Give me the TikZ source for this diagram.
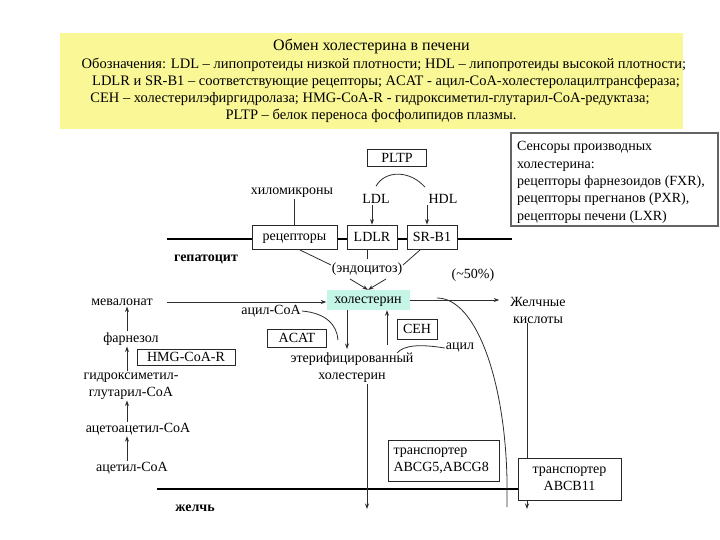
\documentclass[tikz,border=0pt]{standalone}
\usepackage{fontspec}
\setmainfont{Liberation Serif}
\usetikzlibrary{arrows.meta,calc}
\definecolor{hdryel}{RGB}{250,247,150}
\definecolor{cholc}{RGB}{196,245,230}
\definecolor{linec}{RGB}{45,45,45}
\definecolor{boxc}{RGB}{40,40,40}
\newcommand\fs{\fontsize{14}{17}\selectfont}
\newcommand\hfs{\fontsize{14.5}{17}\selectfont}
\tikzset{
  lbl/.style={font=\fs, inner sep=1pt},
  hlbl/.style={font=\hfs, inner sep=0pt, text height=10pt, text depth=3.5pt},
  boxn/.style={draw=boxc, fill=white, font=\fs, inner sep=1pt, line width=0.8pt},
  lowtxt/.style={text height=10pt, text depth=3.5pt},
  arr/.style={-{Stealth[length=5.5pt,width=4pt]}, draw=linec, line width=0.8pt},
  ln/.style={draw=linec, line width=0.8pt},
  mem/.style={line width=2.6pt, black},
}
\begin{document}
\begin{tikzpicture}[x=1pt,y=-1pt]
\useasboundingbox (0,0) rectangle (720,540);
% header
\fill[hdryel] (60,33) rectangle (683,129);
\node[hlbl, font=\fontsize{16}{18}\selectfont] (hdr1) at (371.5,47.5) {Обмен холестерина в печени};
\node[hlbl] (hdr2) at (384,65) {Обозначения: LDL – липопротеиды низкой плотности; HDL – липопротеиды высокой плотности;};
\node[hlbl] (hdr3) at (386,82) {LDLR и SR-B1 – соответствующие рецепторы; ACAT - ацил-CoA-холестеролацилтрансфераза;};
\node[hlbl] (hdr4) at (370,99) {CEH – холестерилэфиргидролаза; HMG-CoA-R - гидроксиметил-глутарил-CoA-редуктаза;};
\node[hlbl] (hdr5) at (371,116) {PLTP – белок переноса фосфолипидов плазмы.};
% sensors box
\draw[draw={rgb,255:red,100;green,100;blue,100}, line width=1.6pt, fill=white] (511,133) rectangle (718,226);
\node[lbl, align=left, anchor=north west, font=\fontsize{14}{17.3}\selectfont] (sens) at (516,140.5) {Сенсоры производных\\холестерина:\\рецепторы фарнезоидов (FXR),\\рецепторы прегнанов (PXR),\\рецепторы печени (LXR)};
% membranes
\coordinate (m1) at (167,239);
\coordinate (m2) at (512,239);
\draw[mem] (m1) -- (m2);
\coordinate (b1) at (157,489);
\coordinate (b2) at (520,489);
\draw[mem] (b1) -- (b2);
% top part
\node[boxn, minimum width=59, minimum height=17] (pltp) at (397,158) {PLTP};
\node[lbl] (chylo) at (292,193) {хиломикроны};
\node[lbl] (ldl) at (376,199) {LDL};
\node[lbl] (hdl) at (443,199) {HDL};
\node[boxn, lowtxt, minimum width=85, minimum height=24] (rec) at (294.5,237) {рецепторы};
\node[boxn, minimum width=50, minimum height=24] (ldlr) at (372,237) {LDLR};
\node[boxn, minimum width=50, minimum height=24] (srb) at (432,237) {SR-B1};
\node[lbl, font=\fs\bfseries] (hep) at (206,259) {гепатоцит};
\node[lbl] (endo) at (367,269) {(эндоцитоз)};
\draw[ln] ([yshift=7pt]ldl.north) .. controls (385,170) and (410,170) .. ([xshift=-18pt,yshift=6pt]hdl.north);
\draw[ln] (chylo.south -| rec.north) -- (rec.north);
\draw[arr] (ldl.south -| ldlr.north) -- (ldlr.north);
\draw[arr] ([xshift=-5pt]hdl.south -| srb.north) -- ([xshift=-5pt]srb.north);
\coordinate (r1) at (300,250);
\coordinate (r2) at (331,265);
\coordinate (s1) at (420,250);
\coordinate (s2) at (403,265);
\draw[ln] (r1) -- (r2);
\draw[ln] (s1) -- (s2);
\draw[ln] ([xshift=-5pt]ldlr.south) -- ([xshift=-5pt,yshift=2pt]ldlr.south |- endo.north);
% cholesterol
\node[fill=cholc, font=\fs, lowtxt, minimum width=83, minimum height=20, inner sep=1pt] (chol) at (368,300) {холестерин};
\coordinate (e1) at (350,279);
\coordinate (e2) at (386,279);
\draw[arr] (e1) -- (chol.north);
\draw[arr] (e2) -- (chol.north);
\node[lbl] (pct) at (473,275) {(\textasciitilde50\%)};
\node[lbl] (meval) at (122,302) {мевалонат};
\draw[arr, shorten <=13pt] (meval.east) -- (meval.east -| chol.west);
\node[lbl, align=center] (bile) at (538,310) {Желчные\\кислоты};
\draw[arr, shorten >=10pt] (chol.east) -- (chol.east -| bile.west);
% ester
\node[lbl, align=center] (ester) at (352,368) {этерифицированный\\холестерин};
\draw[arr] ([xshift=-21pt]chol.south) -- ([xshift=-21pt,yshift=3pt]chol.south |- ester.north);
\draw[arr, shorten <=7pt] ([xshift=35pt]ester.north) -- ([xshift=19pt]chol.south);
\node[lbl] (acylcoa) at (271,311) {ацил-CoA};
\coordinate (ac1) at (338,340);
\draw[ln] (acylcoa.east) .. controls (326,313) and (337,325) .. (ac1);
\node[boxn, minimum width=59, minimum height=18] (acat) at (297,338) {ACAT};
\node[boxn, minimum width=40, minimum height=20] (ceh) at (417,329) {CEH};
\node[lbl] (acyl) at (460,348) {ацил};
\coordinate (ce1) at (397,353);
\draw[ln] (ce1) .. controls (404,345) and (420,344) .. (acyl.west);
% big curve
\coordinate (bc0) at (437,298);
\coordinate (bc1) at (507,507);
\draw[ln] (bc0) .. controls (476,298) and (505,380) .. (507,480) -- (bc1);
% left chain
\coordinate (lx) at (127,0);
\node[lbl] (farn) at (131,339) {фарнезол};
\node[boxn, minimum width=98, minimum height=16] (hmg) at (186,357) {HMG-CoA-R};
\node[lbl, align=center] (hyd) at (131,386) {гидроксиметил-\\глутарил-CoA};
\node[lbl] (acac) at (138,429) {ацетоацетил-CoA};
\node[lbl] (acet) at (132,468) {ацетил-CoA};
\draw[arr] (farn.north -| lx) -- (meval.south -| lx);
\draw[arr] (hyd.north -| lx) -- (farn.south -| lx);
\draw[arr] (acac.north -| lx) -- (hyd.south -| lx);
\draw[arr] (acet.north -| lx) -- (acac.south -| lx);
% bottom
\coordinate (v1) at (527,323);
\coordinate (v2) at (527,509);
\draw[arr] (v1) -- (v2);
\draw[arr] ([xshift=15pt]ester.south) -- ([xshift=15pt]ester.south |- v2);
\node[boxn, minimum width=111, minimum height=41, align=left, text width=100, inner sep=4pt] (abcg) at (443.5,460.5) {транспортер\\ABCG5,ABCG8};
\node[boxn, minimum width=103, minimum height=42, align=center] (abcb) at (569.5,479) {транспортер\\ABCB11};
\node[lbl, font=\fs\bfseries] (zh) at (195,508) {желчь};
\end{tikzpicture}
\end{document}
